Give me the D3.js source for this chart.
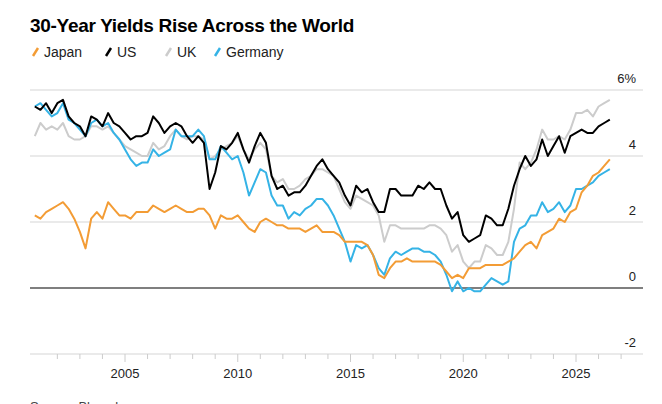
<!DOCTYPE html>
<html><head><meta charset="utf-8">
<script src="https://cdn.jsdelivr.net/npm/d3@7"></script>
<style>body{margin:0;background:#fff}svg{display:block;font-family:"Liberation Sans",Arial,sans-serif}</style>
</head><body><svg id="c" width="662" height="404"></svg>
<script>
const startYear = 2001, step = 0.25;
const us = [5.5,5.4,5.6,5.3, 5.6,5.7,5.2,5.0, 4.9,4.6,5.2,5.1, 4.9,5.3,5.0,4.9, 4.7,4.5,4.6,4.6, 4.7,5.2,5.0,4.7, 4.9,5.0,4.9,4.6, 4.4,4.6,4.4,3.0, 3.5,4.3,4.2,4.4, 4.7,4.2,3.8,4.3, 4.7,4.4,3.4,3.0, 3.1,2.8,2.9,2.9, 3.1,3.4,3.7,3.9, 3.6,3.4,3.2,2.8, 2.5,3.1,2.9,3.0, 2.6,2.3,2.3,3.0, 3.0,2.8,2.8,2.8, 3.1,3.0,3.2,3.0, 3.0,2.5,2.1,2.3, 1.6,1.4,1.5,1.6, 2.2,2.1,1.9,1.9, 2.4,3.1,3.6,4.0, 3.7,3.9,4.5,4.0, 4.3,4.6,4.1,4.6, 4.7,4.8,4.7,4.7, 4.9,5.0,5.1];
const uk = [4.6,5.0,4.8,4.9, 4.8,5.0,4.6,4.5, 4.5,4.6,4.9,4.9, 4.8,4.9,4.7,4.5, 4.3,4.2,4.1,4.0, 4.0,4.4,4.2,4.3, 4.6,4.8,4.6,4.5, 4.6,4.6,4.5,3.9, 4.0,4.2,4.3,4.4, 4.6,4.2,3.9,4.2, 4.4,4.2,3.4,3.2, 3.3,3.0,3.0,3.1, 3.3,3.4,3.6,3.6, 3.5,3.4,3.0,2.6, 2.4,2.8,2.7,2.6, 2.5,2.2,1.4,1.9, 1.9,1.8,1.8,1.8, 1.8,1.8,1.9,1.9, 1.8,1.6,1.1,1.3, 0.8,0.6,0.8,0.8, 1.3,1.2,1.0,1.0, 1.4,2.4,3.8,3.6, 3.8,4.2,4.8,4.5, 4.5,4.6,4.5,4.8, 5.3,5.3,5.4,5.2, 5.5,5.6,5.7];
const germany = [5.5,5.6,5.4,5.2, 5.3,5.6,5.1,5.0, 4.8,4.6,5.0,5.1, 4.9,5.0,4.7,4.5, 4.2,3.9,3.7,3.8, 3.8,4.2,4.0,4.1, 4.2,4.8,4.6,4.6, 4.6,4.8,4.6,3.9, 3.9,4.3,4.1,3.9, 4.0,3.5,2.8,3.2, 3.6,3.5,2.8,2.5, 2.5,2.1,2.3,2.2, 2.4,2.5,2.7,2.7, 2.5,2.2,1.8,1.4, 0.8,1.3,1.2,1.3, 1.0,0.6,0.4,0.9, 1.1,1.0,1.1,1.2, 1.2,1.1,1.1,1.0, 0.8,0.4,-0.1,0.2, -0.1,0.0,-0.1,-0.1, 0.1,0.3,0.2,0.1, 0.2,1.4,1.8,1.9, 2.2,2.2,2.6,2.3, 2.4,2.6,2.3,2.5, 3.0,3.0,3.1,3.2, 3.4,3.5,3.6];
const japan = [2.2,2.1,2.3,2.4, 2.5,2.6,2.4,2.1, 1.7,1.2,2.1,2.3, 2.1,2.6,2.4,2.2, 2.2,2.1,2.3,2.3, 2.3,2.5,2.4,2.3, 2.4,2.5,2.4,2.3, 2.3,2.4,2.4,2.2, 1.8,2.2,2.1,2.1, 2.2,2.0,1.8,1.7, 2.0,2.1,2.0,1.9, 1.9,1.8,1.8,1.8, 1.7,1.8,1.9,1.7, 1.7,1.7,1.6,1.4, 1.4,1.4,1.4,1.3, 1.0,0.4,0.3,0.6, 0.8,0.8,0.9,0.8, 0.8,0.8,0.8,0.8, 0.7,0.5,0.3,0.4, 0.3,0.6,0.6,0.6, 0.7,0.7,0.7,0.7, 0.8,0.9,1.1,1.3, 1.4,1.2,1.6,1.7, 1.8,2.1,2.0,2.3, 2.4,2.9,3.1,3.4, 3.5,3.7,3.9];
const seriesNames = ["Japan","US","UK","Germany"];
const seriesColors = ["#f39c35","#000000","#cccccc","#35b3e6"];
const yTicks = [-2,0,2,4,6];
const xTicks = [2005,2010,2015,2020,2025];

const svg = d3.select("#c");
const x = d3.scaleLinear().domain([2005,2025]).range([125,576]);
const y = d3.scaleLinear().domain([-2,6]).range([354,90]);

svg.append("text").attr("x",30).attr("y",32).attr("font-size",19).attr("font-weight","bold").attr("fill","#000").attr("letter-spacing","-0.3").text("30-Year Yields Rise Across the World");

// legend
const legX = [33,106,166,215];
seriesNames.forEach((n,i)=>{
  const g = svg.append("g").attr("transform",`translate(${legX[i]},52)`);
  g.append("line").attr("x1",0).attr("y1",4).attr("x2",5).attr("y2",-4).attr("stroke",seriesColors[i]).attr("stroke-width",2.5);
  g.append("text").attr("x",11).attr("y",5).attr("font-size",14).attr("fill","#222").text(n);
});

// grid
yTicks.forEach(t=>{
  svg.append("line").attr("x1",30).attr("x2",643).attr("y1",y(t)).attr("y2",y(t))
    .attr("stroke", t===0?"#000":"#d6d6d6").attr("stroke-width", t===0?1.2:1.2);
  svg.append("text").attr("x",636).attr("y",y(t)-7).attr("text-anchor","end").attr("font-size",13).attr("fill","#222").text(t===6?"6%":t);
});
// x ticks
for(let yr=2002; yr<=2027; yr++){
  const major = xTicks.includes(yr);
  svg.append("line").attr("x1",x(yr)).attr("x2",x(yr)).attr("y1",y(-2)).attr("y2",y(-2)+(major?8:5)).attr("stroke","#ccc");
}
xTicks.forEach(t=>svg.append("text").attr("x",x(t)).attr("y",y(-2)+24).attr("text-anchor","middle").attr("font-size",13).attr("fill","#222").text(t));

const line = d3.line().x((d,i)=>x(startYear+i*step)).y(d=>y(d)).curve(d3.curveLinear);
const draw = [[uk,2],[germany,3],[japan,0],[us,1]];
draw.forEach(([arr,ci])=>{
  svg.append("path").attr("d",line(arr)).attr("fill","none").attr("stroke",seriesColors[ci]).attr("stroke-width",2).attr("stroke-linejoin","round");
});

svg.append("text").attr("x",30).attr("y",411).attr("font-size",13).attr("fill","#444").text("Source: Bloomberg");
</script></body></html>
